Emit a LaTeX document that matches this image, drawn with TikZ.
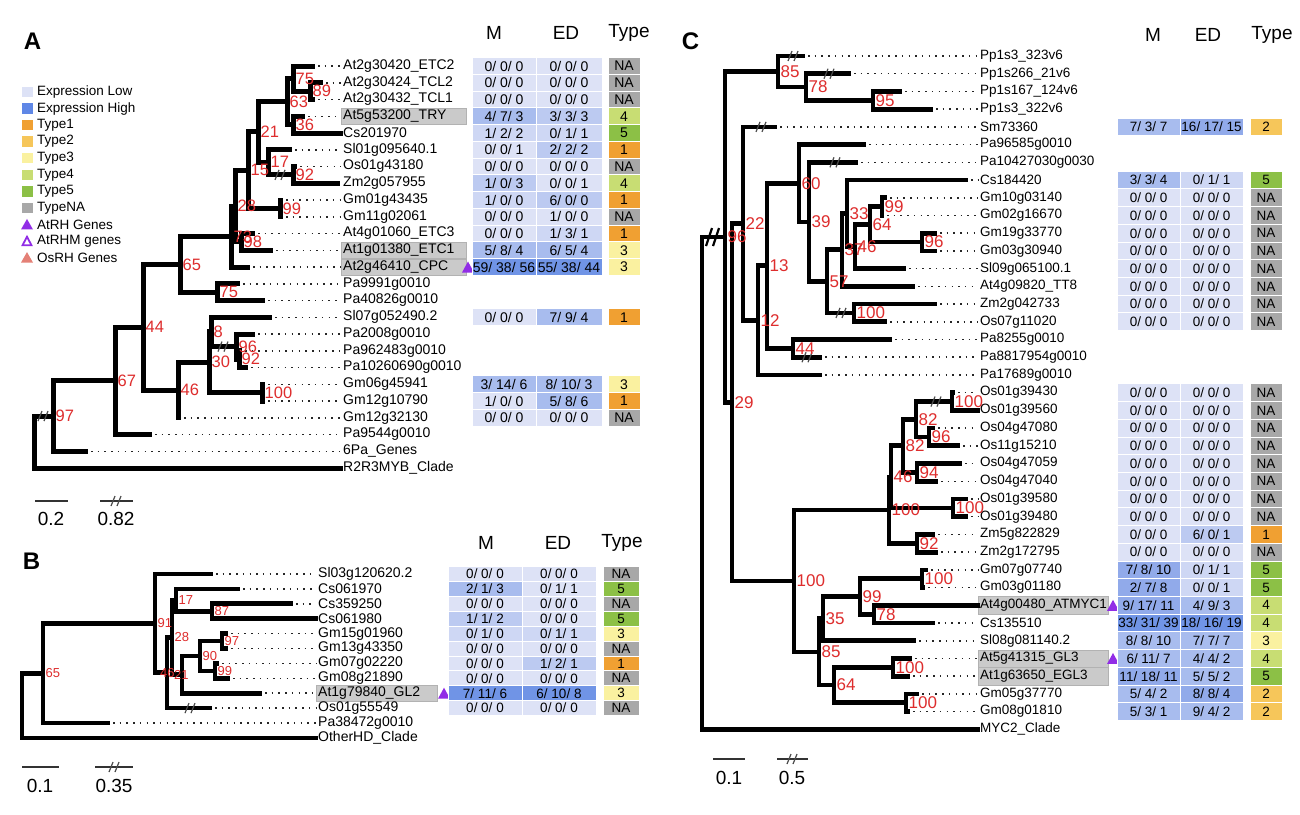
\documentclass[tikz,border=0pt]{standalone}
\usepackage{fontspec}
\setmainfont{Liberation Sans}
\newcommand\myfs[1]{\fontsize{#1}{#1}\selectfont}
\definecolor{lowc}{RGB}{221,226,246}
\definecolor{highc}{RGB}{95,135,230}
\definecolor{lv0}{RGB}{221,226,246}
\definecolor{lv1}{RGB}{206,215,244}
\definecolor{lv2}{RGB}{188,202,241}
\definecolor{lv3}{RGB}{168,188,238}
\definecolor{lv4}{RGB}{145,170,234}
\definecolor{lv5}{RGB}{112,148,230}
\definecolor{t1}{RGB}{240,160,50}
\definecolor{t2}{RGB}{246,198,90}
\definecolor{t3}{RGB}{250,241,160}
\definecolor{t4}{RGB}{200,221,115}
\definecolor{t5}{RGB}{140,192,70}
\definecolor{tNA}{RGB}{168,168,168}
\definecolor{rhp}{RGB}{145,45,230}
\definecolor{osrh}{RGB}{228,128,118}
\definecolor{bsred}{RGB}{222,45,45}
\definecolor{greybox}{RGB}{202,202,202}
\usetikzlibrary{calc}
\newcommand\kids[3][br]{\foreach \ch in {#3}{\draw[#1] (#2) |- (\ch);}}
\newcommand\brkmark[3][]{\draw[brk,#1] ({#2-6},{#3+5}) -- ({#2-2},{#3-5}) ({#2},{#3+5}) -- ({#2+4},{#3-5});}
\newcommand\tri[2]{\fill[rhp] ({#1},{#2+5.5}) -- ({#1+12},{#2+5.5}) -- ({#1+6},{#2-5.5}) -- cycle;}
\newcommand\rowA[6]{%
 \node[cellA,fill=#3,minimum width=64pt] (aM#1) at (504,{66+16.75*#1}) {#2};
 \node[cellA,fill=#5,minimum width=66pt] (aE#1) at (569,{66+16.75*#1}) {#4};
 \node[cellA,fill=t#6,minimum width=32pt] (aY#1) at (624,{66+16.75*#1}) {#6};}
\newcommand\rowB[6]{%
 \node[cellB,fill=#3,minimum width=74pt] (bM#1) at (485,{574+14.9*#1}) {#2};
 \node[cellB,fill=#5,minimum width=74pt] (bE#1) at (559,{574+14.9*#1}) {#4};
 \node[cellB,fill=t#6,minimum width=36pt] (bY#1) at (621,{574+14.9*#1}) {#6};}
\newcommand\rowC[6]{%
 \node[cellC,fill=#3,minimum width=63pt] (cM#1) at (1148.5,{56+17.72*#1}) {#2};
 \node[cellC,fill=#5,minimum width=63pt] (cE#1) at (1211.5,{56+17.72*#1}) {#4};
 \node[cellC,fill=t#6,minimum width=32pt] (cY#1) at (1266,{56+17.72*#1}) {#6};}
\begin{document}
\begin{tikzpicture}[x=1pt,y=-1pt,
  br/.style={line width=5pt,line join=miter,line cap=butt},
  brc/.style={line width=4.7pt,line join=miter,line cap=butt},
  lead/.style={line width=1.5pt,dash pattern=on 1.5pt off 5.2pt,black!85,shorten <=3pt,shorten >=2pt},
  leafA/.style={anchor=west,inner sep=0pt,font=\myfs{14}},
  leafC/.style={anchor=west,inner sep=0pt,font=\myfs{13.5}},
  bsA/.style={anchor=west,inner sep=0pt,text=bsred,font=\myfs{16.5},xshift=2.5pt},
  bsB/.style={anchor=west,inner sep=0pt,text=bsred,font=\myfs{13},xshift=2.5pt},
  bsC/.style={anchor=west,inner sep=0pt,text=bsred,font=\myfs{17},xshift=2.5pt},
  cellA/.style={draw=white,line width=0.9pt,inner sep=0pt,minimum height=16.75pt,font=\myfs{14}},
  cellB/.style={draw=white,line width=0.9pt,inner sep=0pt,minimum height=14.9pt,font=\myfs{13.5}},
  cellC/.style={draw=white,line width=0.9pt,inner sep=0pt,minimum height=17.72pt,font=\myfs{13.5}},
  hdr/.style={inner sep=0pt,font=\myfs{19}},
  panel/.style={inner sep=0pt,font=\myfs{24}\bfseries},
  gbox/.style={fill=greybox,draw={rgb,255:red,178;green,178;blue,178},line width=0.6pt},
  brk/.style={line width=1.2pt,black!70},
  sbar/.style={line width=1.3pt,black!80},
  stext/.style={inner sep=0pt,font=\myfs{19}},
  leg/.style={anchor=west,inner sep=0pt,font=\myfs{13.5}}]
\useasboundingbox (0,0) rectangle (1300,814);
\fill[white] (0,0) rectangle (1300,814);

%% panel letters
\node[panel] (pA) at (32.5,41.5) {A};
\node[panel] (pB) at (31.5,561.5) {B};
\node[panel] (pC) at (690.5,41.5) {C};

%% legend
\foreach \cl/\tx [count=\k from 0] in {lowc/Expression Low,highc/Expression High,t1/Type1,t2/Type2,t3/Type3,t4/Type4,t5/Type5,tNA/TypeNA}{
  \fill[\cl] (22,{92+16.56*\k-5.2}) rectangle (32.5,{92+16.56*\k+5.2});
  \node[leg] (lg\k) at (37,{92+16.56*\k}) {\tx};}
\fill[rhp] (21,{92+16.56*8+5}) -- (33,{92+16.56*8+5}) -- (27,{92+16.56*8-5.5}) -- cycle;
\node[leg] (lg8) at (37,{92+16.56*8}) {AtRH Genes};
\draw[rhp,line width=1.8pt,line join=miter] (22.5,{92+16.56*9+4.3}) -- (31.5,{92+16.56*9+4.3}) -- (27,{92+16.56*9-4.3}) -- cycle;
\node[leg] (lg9) at (37,{92+16.56*9}) {AtRHM genes};
\fill[osrh] (21,{92+16.56*10+5}) -- (33,{92+16.56*10+5}) -- (27,{92+16.56*10-5.5}) -- cycle;
\node[leg] (lg10) at (37,{92+16.56*10}) {OsRH Genes};

%% ================= PANEL A =================
\foreach \i in {3,11,12}{\path[gbox] (341,{66+16.75*\i-8.2}) rectangle (466,{66+16.75*\i+8.2});}
\foreach \i/\tx in {0/At2g30420\_ETC2,1/At2g30424\_TCL2,2/At2g30432\_TCL1,3/At5g53200\_TRY,4/Cs201970,5/Sl01g095640.1,6/Os01g43180,7/Zm2g057955,8/Gm01g43435,9/Gm11g02061,10/At4g01060\_ETC3,11/At1g01380\_ETC1,12/At2g46410\_CPC,13/Pa9991g0010,14/Pa40826g0010,15/Sl07g052490.2,16/Pa2008g0010,17/Pa962483g0010,18/Pa10260690g0010,19/Gm06g45941,20/Gm12g10790,21/Gm12g32130,22/Pa9544g0010,23/6Pa\_Genes,24/R2R3MYB\_Clade}{
  \node[leafA] (aLab\i) at (343,{66+16.75*\i}) {\tx};}
\foreach \i/\xx in {0/315,1/323,2/315,3/305,4/343,5/292,6/297,7/340,8/283,9/283,10/255,11/273,12/250,13/240,14/265,15/272,16/255,17/242,18/248,19/265,20/265,21/181,22/152,23/88,24/343}{
  \coordinate (aTip\i) at (\xx,{66+16.75*\i});}
\foreach \i in {0,1,2,3,5,6,8,9,10,11,12,13,14,15,16,17,18,19,20,21,22,23}{\draw[lead] (aTip\i) -- (aLab\i.west);}
\coordinate (aN89) at (310,91.13);
\coordinate (aN75) at (293,78.56);
\coordinate (aN36) at (293,124.63);
\coordinate (aN63) at (287,101.6);
\coordinate (aN92) at (293,174.88);
\coordinate (aN17) at (268,162.31);
\coordinate (aN21) at (258,131.96);
\coordinate (aN99) at (280,208.38);
\coordinate (aN15) at (248,170.17);
\coordinate (aN98) at (241,241.88);
\coordinate (aN28) at (235,206.03);
\coordinate (aN73) at (231,236.52);
\coordinate (aN75p) at (217,292.13);
\coordinate (aN65) at (180,264.33);
\coordinate (aN92p) at (239,359.13);
\coordinate (aN96p) at (236,346.57);
\coordinate (aN8) at (211,331.91);
\coordinate (aN100) at (262,392.63);
\coordinate (aN30) at (209,362.27);
\coordinate (aN46) at (178,390.01);
\coordinate (aN44) at (143,327.17);
\coordinate (aN67) at (115,380.84);
\coordinate (aN97) at (53,416.05);
\coordinate (aRoot) at (34,442.03);
\kids{aN89}{aTip1,aTip2}
\kids{aN75}{aTip0,aN89}
\kids{aN36}{aTip3,aTip4}
\kids{aN63}{aN75,aN36}
\kids{aN92}{aTip6,aTip7}
\kids{aN17}{aTip5,aN92}
\kids{aN21}{aN63,aN17}
\kids{aN99}{aTip8,aTip9}
\kids{aN15}{aN21,aN99}
\kids{aN98}{aTip10,aTip11}
\kids{aN28}{aN15,aN98}
\kids{aN73}{aN28,aTip12}
\kids{aN75p}{aTip13,aTip14}
\kids{aN65}{aN73,aN75p}
\kids{aN92p}{aTip17,aTip18}
\kids{aN96p}{aTip16,aN92p}
\kids{aN8}{aTip15,aN96p}
\kids{aN100}{aTip19,aTip20}
\kids{aN30}{aN8,aN100}
\kids{aN46}{aN30,aTip21}
\kids{aN44}{aN65,aN46}
\kids{aN67}{aN44,aTip22}
\kids{aN97}{aN67,aTip23}
\kids{aRoot}{aN97,aTip24}
\brkmark{44}{416.05}
\brkmark{281}{174.88}
\brkmark{224}{346.57}
\foreach \n/\t in {aN89/89,aN75/75,aN36/36,aN63/63,aN92/92,aN17/17,aN21/21,aN99/99,aN15/15,aN98/98,aN28/28,aN73/73,aN75p/75,aN65/65,aN92p/92,aN96p/96,aN8/8,aN100/100,aN30/30,aN46/46,aN44/44,aN67/67,aN97/97}{
  \node[bsA] (\n L) at (\n) {\t};}
\tri{462}{267}
%% table A
\node[hdr] (aHM) at (494,33) {M};
\node[hdr] (aHE) at (566,33) {ED};
\node[hdr] (aHT) at (629,33) {Type};
\rowA{0}{0/ 0/ 0}{lv0}{0/ 0/ 0}{lv0}{NA}
\rowA{1}{0/ 0/ 0}{lv0}{0/ 0/ 0}{lv0}{NA}
\rowA{2}{0/ 0/ 0}{lv0}{0/ 0/ 0}{lv0}{NA}
\rowA{3}{4/ 7/ 3}{lv3}{3/ 3/ 3}{lv2}{4}
\rowA{4}{1/ 2/ 2}{lv1}{0/ 1/ 1}{lv1}{5}
\rowA{5}{0/ 0/ 1}{lv0}{2/ 2/ 2}{lv2}{1}
\rowA{6}{0/ 0/ 0}{lv0}{0/ 0/ 0}{lv0}{NA}
\rowA{7}{1/ 0/ 3}{lv2}{0/ 0/ 1}{lv0}{4}
\rowA{8}{1/ 0/ 0}{lv1}{6/ 0/ 0}{lv2}{1}
\rowA{9}{0/ 0/ 0}{lv0}{1/ 0/ 0}{lv0}{NA}
\rowA{10}{0/ 0/ 0}{lv0}{1/ 3/ 1}{lv1}{1}
\rowA{11}{5/ 8/ 4}{lv3}{6/ 5/ 4}{lv3}{3}
\rowA{12}{59/ 38/ 56}{lv5}{55/ 38/ 44}{lv5}{3}
\rowA{15}{0/ 0/ 0}{lv0}{7/ 9/ 4}{lv3}{1}
\rowA{19}{3/ 14/ 6}{lv3}{8/ 10/ 3}{lv3}{3}
\rowA{20}{1/ 0/ 0}{lv0}{5/ 8/ 6}{lv3}{1}
\rowA{21}{0/ 0/ 0}{lv0}{0/ 0/ 0}{lv0}{NA}
%% scale A
\coordinate (asb1) at (35,501); \coordinate (asb2) at (68,501);
\coordinate (asb3) at (100,501); \coordinate (asb4) at (133,501);
\draw[sbar] (asb1) -- (asb2);
\draw[sbar] (asb3) -- (asb4);
\brkmark{117}{501}
\node[stext] (asT1) at (51,519) {0.2};
\node[stext] (asT2) at (116,519) {0.82};

%% ================= PANEL B =================
\path[gbox] (316,{574+14.9*8-7.6}) rectangle (437,{574+14.9*8+7.6});
\foreach \i/\tx in {0/Sl03g120620.2,1/Cs061970,2/Cs359250,3/Cs061980,4/Gm15g01960,5/Gm13g43350,6/Gm07g02220,7/Gm08g21890,8/At1g79840\_GL2,9/Os01g55549,10/Pa38472g0010,11/OtherHD\_Clade}{
  \node[leafA] (bLab\i) at (318,{574+14.9*\i}) {\tx};}
\foreach \i/\xx in {0/213,1/240,2/293,3/318,4/228,5/228,6/219,7/230,8/262,9/212,10/110,11/318}{
  \coordinate (bTip\i) at (\xx,{574+14.9*\i});}
\foreach \i in {0,1,2,4,5,6,7,8,9,10}{\draw[lead] (bTip\i) -- (bLab\i.west);}
\coordinate (bN97) at (222,641.05);
\coordinate (bN99) at (215,670.85);
\coordinate (bN90) at (200,655.95);
\coordinate (bN21) at (182,674.6);
\coordinate (bN87) at (212,611.25);
\coordinate (bN17) at (176,600.1);
\coordinate (bN28) at (172,637.35);
\coordinate (bN46) at (167,672.7);
\coordinate (bN91) at (155,623.35);
\coordinate (bN65) at (43,673.2);
\coordinate (bRoot) at (22,705.5);
\kids[brc]{bN97}{bTip4,bTip5}
\kids[brc]{bN99}{bTip6,bTip7}
\kids[brc]{bN90}{bN97,bN99}
\kids[brc]{bN21}{bN90,bTip8}
\kids[brc]{bN87}{bTip2,bTip3}
\kids[brc]{bN17}{bTip1,bN87}
\kids[brc]{bN28}{bN17,bN21}
\kids[brc]{bN46}{bN28,bTip9}
\kids[brc]{bN91}{bTip0,bN46}
\kids[brc]{bN65}{bN91,bTip10}
\kids[brc]{bRoot}{bN65,bTip11}
\brkmark{191}{708.1}
\foreach \n/\t in {bN97/97,bN99/99,bN90/90,bN87/87,bN17/17,bN28/28,bN91/91,bN65/65}{
  \node[bsB] (\n L) at (\n) {\t};}
\node[bsB,xshift=-2.5pt] (bN46L) at (160,672.7) {46};
\node[bsB,xshift=-2.5pt] (bN21L) at (174,674.6) {21};
\tri{438}{693.2}
%% table B
\node[hdr] (bHM) at (486,543) {M};
\node[hdr] (bHE) at (558,543) {ED};
\node[hdr] (bHT) at (622,543) {Type};
\rowB{0}{0/ 0/ 0}{lv0}{0/ 0/ 0}{lv0}{NA}
\rowB{1}{2/ 1/ 3}{lv3}{0/ 1/ 1}{lv0}{5}
\rowB{2}{0/ 0/ 0}{lv0}{0/ 0/ 0}{lv0}{NA}
\rowB{3}{1/ 1/ 2}{lv2}{0/ 0/ 0}{lv0}{5}
\rowB{4}{0/ 1/ 0}{lv1}{0/ 1/ 1}{lv1}{3}
\rowB{5}{0/ 0/ 0}{lv0}{0/ 0/ 0}{lv0}{NA}
\rowB{6}{0/ 0/ 0}{lv0}{1/ 2/ 1}{lv2}{1}
\rowB{7}{0/ 0/ 0}{lv0}{0/ 0/ 0}{lv0}{NA}
\rowB{8}{7/ 11/ 6}{lv5}{6/ 10/ 8}{lv5}{3}
\rowB{9}{0/ 0/ 0}{lv0}{0/ 0/ 0}{lv0}{NA}
%% scale B
\coordinate (bsb1) at (22,767); \coordinate (bsb2) at (59,767);
\coordinate (bsb3) at (95,767); \coordinate (bsb4) at (133,767);
\draw[sbar] (bsb1) -- (bsb2);
\draw[sbar] (bsb3) -- (bsb4);
\brkmark{115}{767}
\node[stext] (bsT1) at (40,786) {0.1};
\node[stext] (bsT2) at (114,786) {0.35};

%% ================= PANEL C =================
\foreach \i in {31,34,35}{\path[gbox] (978,{56+17.72*\i-8.6}) rectangle (1108,{56+17.72*\i+8.6});}
\foreach \i/\tx in {0/Pp1s3\_323v6,1/Pp1s266\_21v6,2/Pp1s167\_124v6,3/Pp1s3\_322v6,4/Sm73360,5/Pa96585g0010,6/Pa10427030g0030,7/Cs184420,8/Gm10g03140,9/Gm02g16670,10/Gm19g33770,11/Gm03g30940,12/Sl09g065100.1,13/At4g09820\_TT8,14/Zm2g042733,15/Os07g11020,16/Pa8255g0010,17/Pa8817954g0010,18/Pa17689g0010,19/Os01g39430,20/Os01g39560,21/Os04g47080,22/Os11g15210,23/Os04g47059,24/Os04g47040,25/Os01g39580,26/Os01g39480,27/Zm5g822829,28/Zm2g172795,29/Gm07g07740,30/Gm03g01180,31/At4g00480\_ATMYC1,32/Cs135510,33/Sl08g081140.2,34/At5g41315\_GL3,35/At1g63650\_EGL3,36/Gm05g37770,37/Gm08g01810,38/MYC2\_Clade}{
  \node[leafC] (cLab\i) at (980,{56+17.72*\i}) {\tx};}
\foreach \i/\xx in {0/805,1/851,2/902,3/933,4/777,5/866,6/858,7/968,8/887,9/884,10/937,11/937,12/906,13/915,14/937,15/887,16/892,17/822,18/822,19/955,20/980,21/935,22/960,23/962,24/938,25/968,26/968,27/935,28/938,29/928,30/925,31/980,32/935,33/916,34/912,35/910,36/919,37/910,38/980}{
  \coordinate (cTip\i) at (\xx,{56+17.72*\i});}
\foreach \i in {0,1,2,3,4,5,6,7,8,9,10,11,12,13,14,15,16,17,18,19,21,22,23,24,25,26,27,28,29,30,32,33,34,35,36,37}{\draw[lead] (cTip\i) -- (cLab\i.west);}
\coordinate (cN99) at (882,206.62);
\coordinate (cN96) at (922,242.06);
\coordinate (cN64) at (870,224.34);
\coordinate (cN46) at (855,246.49);
\coordinate (cN33) at (847,213.27);
\coordinate (cN37) at (842,249.81);
\coordinate (cN100a) at (854,312.94);
\coordinate (cN57) at (827,281.38);
\coordinate (cN39) at (809,221.85);
\coordinate (cN60) at (799,183.23);
\coordinate (cN44) at (793,348.38);
\coordinate (cN13) at (767,265.81);
\coordinate (cN12) at (758,320.39);
\coordinate (cN22) at (743,223.64);
\coordinate (cN95) at (873,100.3);
\coordinate (cN78) at (806,87.01);
\coordinate (cN85) at (778,71.5);
\coordinate (cN100b) at (952,401.54);
\coordinate (cN96o) at (929,436.98);
\coordinate (cN82a) at (916,419.26);
\coordinate (cN94) at (917,472.42);
\coordinate (cN82b) at (903,445.84);
\coordinate (cN100c) at (953,507.86);
\coordinate (cN46o) at (891,476.85);
\coordinate (cN92o) at (917,543.3);
\coordinate (cN100o) at (889,510.08);
\coordinate (cN100d) at (922,578.74);
\coordinate (cN78d) at (874,614.18);
\coordinate (cN99d) at (860,596.46);
\coordinate (cN35) at (823,618.61);
\coordinate (cN100e) at (893,667.34);
\coordinate (cN100f) at (906,702.78);
\coordinate (cN64d) at (834,685.06);
\coordinate (cN85d) at (819,651.84);
\coordinate (cN100big) at (794,580.96);
\coordinate (cN29) at (732,402.3);
\coordinate (cN96big) at (725,236.9);
\coordinate (cRoot) at (702,483.13);
\kids[brc]{cN99}{cTip8,cTip9}
\kids[brc]{cN96}{cTip10,cTip11}
\kids[brc]{cN64}{cN99,cN96}
\kids[brc]{cN46}{cN64,cTip12}
\kids[brc]{cN33}{cTip7,cN46}
\kids[brc]{cN37}{cN33,cTip13}
\kids[brc]{cN100a}{cTip14,cTip15}
\kids[brc]{cN57}{cN37,cN100a}
\kids[brc]{cN39}{cTip6,cN57}
\kids[brc]{cN60}{cTip5,cN39}
\kids[brc]{cN44}{cTip16,cTip17}
\kids[brc]{cN13}{cN60,cN44}
\kids[brc]{cN12}{cN13,cTip18}
\kids[brc]{cN22}{cTip4,cN12}
\kids[brc]{cN95}{cTip2,cTip3}
\kids[brc]{cN78}{cTip1,cN95}
\kids[brc]{cN85}{cTip0,cN78}
\kids[brc]{cN100b}{cTip19,cTip20}
\kids[brc]{cN96o}{cTip21,cTip22}
\kids[brc]{cN82a}{cN100b,cN96o}
\kids[brc]{cN94}{cTip23,cTip24}
\kids[brc]{cN82b}{cN82a,cN94}
\kids[brc]{cN100c}{cTip25,cTip26}
\kids[brc]{cN46o}{cN82b,cN100c}
\kids[brc]{cN92o}{cTip27,cTip28}
\kids[brc]{cN100o}{cN46o,cN92o}
\kids[brc]{cN100d}{cTip29,cTip30}
\kids[brc]{cN78d}{cTip31,cTip32}
\kids[brc]{cN99d}{cN100d,cN78d}
\kids[brc]{cN35}{cN99d,cTip33}
\kids[brc]{cN100e}{cTip34,cTip35}
\kids[brc]{cN100f}{cTip36,cTip37}
\kids[brc]{cN64d}{cN100e,cN100f}
\kids[brc]{cN85d}{cN35,cN64d}
\kids[brc]{cN100big}{cN100o,cN85d}
\kids[brc]{cN29}{cN22,cN100big}
\kids[brc]{cN96big}{cN85,cN29}
\kids[brc]{cRoot}{cN96big,cTip38}
\draw[line width=2.2pt,black] (706,246) -- (712,228) (713,246) -- (719,228);
\brkmark{794}{56}
\brkmark{830}{73.72}
\brkmark{762}{126.88}
\brkmark{836}{162.32}
\brkmark{842}{312.94}
\brkmark{808}{357.24}
\brkmark{937}{401.54}
\foreach \n/\t in {cN99/99,cN96/96,cN64/64,cN46/46,cN33/33,cN37/37,cN100a/100,cN57/57,cN39/39,cN60/60,cN44/44,cN13/13,cN12/12,cN22/22,cN95/95,cN78/78,cN85/85,cN100b/100,cN96o/96,cN82a/82,cN94/94,cN82b/82,cN100c/100,cN46o/46,cN92o/92,cN100o/100,cN100d/100,cN78d/78,cN99d/99,cN35/35,cN100e/100,cN100f/100,cN64d/64,cN85d/85,cN100big/100,cN29/29,cN96big/96}{
  \node[bsC] (\n L) at (\n) {\t};}
\tri{1107}{605.32}
\tri{1107}{658.48}
%% table C
\node[hdr] (cHM) at (1153,35) {M};
\node[hdr] (cHE) at (1208,35) {ED};
\node[hdr] (cHT) at (1272,35) {Type};
\rowC{4}{7/ 3/ 7}{lv3}{16/ 17/ 15}{lv4}{2}
\rowC{7}{3/ 3/ 4}{lv3}{0/ 1/ 1}{lv1}{5}
\foreach \i in {8,9,10,11,12,13,14,15,19,20,21,22,23,24,25,26,28}{\rowC{\i}{0/ 0/ 0}{lv0}{0/ 0/ 0}{lv0}{NA}}
\rowC{27}{0/ 0/ 0}{lv0}{6/ 0/ 1}{lv2}{1}
\rowC{29}{7/ 8/ 10}{lv4}{0/ 1/ 1}{lv1}{5}
\rowC{30}{2/ 7/ 8}{lv4}{0/ 0/ 1}{lv1}{5}
\rowC{31}{9/ 17/ 11}{lv4}{4/ 9/ 3}{lv3}{4}
\rowC{32}{33/ 31/ 39}{lv5}{18/ 16/ 19}{lv5}{4}
\rowC{33}{8/ 8/ 10}{lv3}{7/ 7/ 7}{lv3}{3}
\rowC{34}{6/ 11/ 7}{lv3}{4/ 4/ 2}{lv3}{4}
\rowC{35}{11/ 18/ 11}{lv4}{5/ 5/ 2}{lv3}{5}
\rowC{36}{5/ 4/ 2}{lv3}{8/ 8/ 4}{lv4}{2}
\rowC{37}{5/ 3/ 1}{lv3}{9/ 4/ 2}{lv3}{2}
%% scale C
\coordinate (csb1) at (713,759); \coordinate (csb2) at (745,759);
\coordinate (csb3) at (777,759); \coordinate (csb4) at (808,759);
\draw[sbar] (csb1) -- (csb2);
\draw[sbar] (csb3) -- (csb4);
\brkmark{793}{759}
\node[stext] (csT1) at (729,778) {0.1};
\node[stext] (csT2) at (792,778) {0.5};
\end{tikzpicture}
\end{document}
